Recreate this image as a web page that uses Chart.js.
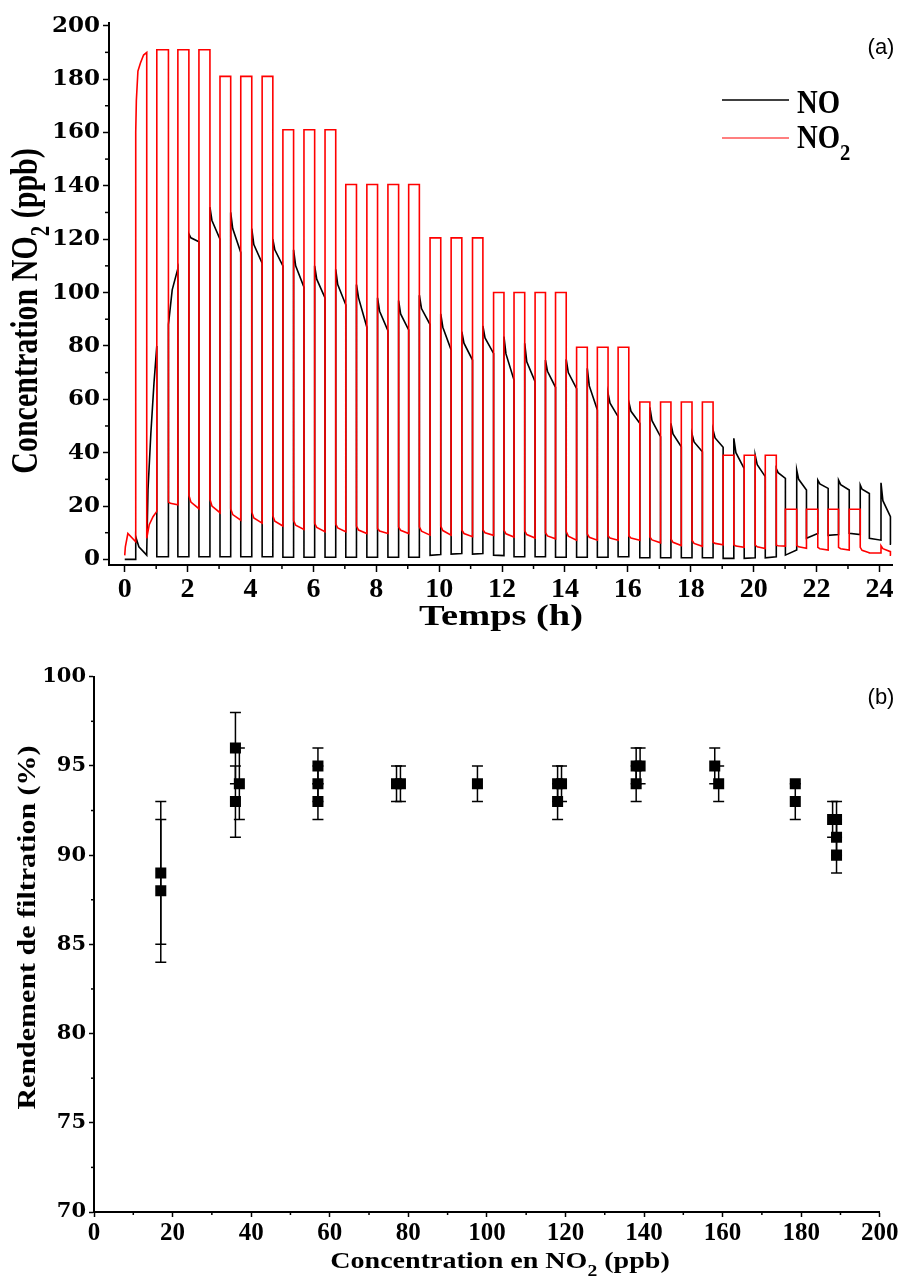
<!DOCTYPE html>
<html><head><meta charset="utf-8">
<script src="https://cdn.jsdelivr.net/npm/chart.js@4.4.0/dist/chart.umd.min.js"></script>
<style>
html,body{margin:0;padding:0;background:#fff;width:900px;height:1282px;overflow:hidden}
#wrapA{position:absolute;left:0;top:0;width:900px;height:640px}
#wrapB{position:absolute;left:0;top:640px;width:900px;height:642px}
canvas{display:block}
</style></head><body>
<div id="wrapA"><canvas id="chartA" width="900" height="640"></canvas></div>
<div id="wrapB"><canvas id="chartB" width="900" height="642"></canvas></div>
<script>
// ---------- (a) time series: segment boundaries (h) ----------
const switchTimes = [0, 0.35, 0.70, 1.02, 1.39, 1.69, 2.04, 2.36, 2.71, 3.03,
  3.37, 3.69, 4.04, 4.37, 4.71, 5.03, 5.37, 5.70, 6.04, 6.37,
  6.71, 7.03, 7.37, 7.70, 8.04, 8.37, 8.71, 9.03, 9.37, 9.71,
  10.05, 10.38, 10.72, 11.06, 11.39, 11.73, 12.06, 12.38, 12.72, 13.05,
  13.38, 13.70, 14.04, 14.37, 14.71, 15.03, 15.37, 15.69, 16.03, 16.38,
  16.70, 17.04, 17.37, 17.70, 18.04, 18.37, 18.71, 19.03, 19.37, 19.70,
  20.05, 20.37, 20.72, 21.01, 21.37, 21.68, 22.04, 22.37, 22.70, 23.04,
  23.39, 23.68, 24.05, 24.35, 24.37];

// NO (ppb): value at start, early knee (null = none) and end of each segment
const noStart = [0, 8.5, 3, 1, 88, 1, 122, 1, 132, 1,
  130, 1, 124, 1, 120, 0.8, 116, 0.8, 110, 0.8,
  108.7, 0.8, 103, 0.8, 98, 0.8, 97, 0.8, 99, 1.5,
  92, 2, 85.3, 2, 87.5, 1.6, 83.5, 1, 81, 1,
  74.7, 0.8, 75, 0.8, 71.6, 0.8, 62.2, 1, 59, 0.6,
  57, 0.6, 51, 0.6, 47, 0.6, 48.5, 0.4, 45.4, 0.4,
  39, 0.6, 34, 1.6, 33.5, 7.9, 29.7, 9, 29.7, 9.8,
  27.9, 7.9, 28.7, 5.7];
const noKnee = [null, null, null, null, null, null, 120.5, null, 127, null,
  124, null, 118, null, 116, null, 110, null, 105, null,
  103, null, 98, null, 93, null, 92, null, 94, null,
  87, null, 81, null, 83, null, 77, null, 74, null,
  70.5, null, 70, null, 65, null, 58.5, null, 55.5, null,
  52, null, 47, null, 44, null, 45.5, null, 40, null,
  35.5, null, 32.5, null, 30, null, 28.3, null, 28, null,
  26.3, null, 22, null];
const noEnd = [0, 1.6, 80, 1, 109, 1, 119, 1, 120, 1,
  115, 1, 111, 1, 110, 0.8, 102, 0.8, 98, 0.8,
  95.4, 0.8, 87, 0.8, 85.7, 0.8, 86, 0.8, 88, 1.8,
  78.5, 2.2, 74.7, 2.2, 77.2, 1.4, 67.2, 1, 66.6, 1,
  64.5, 0.8, 64, 0.8, 56, 0.8, 53.5, 1, 51, 0.6,
  46, 0.6, 42.2, 0.6, 40.3, 0.6, 42, 0.4, 34, 0.6,
  31, 1, 30.4, 3.5, 26, 9.7, 26.6, 9.3, 26, 9.3,
  24.7, 7.2, 16, 5.7];

// NO2 (ppb): value at start, early knee and end of each segment
const no2Start = [1.5, 160, 7.9, 191, 21.5, 191, 24, 191, 22.5, 181,
  19, 181, 17.8, 181, 16.3, 161, 14.5, 161, 13.5, 161,
  13.2, 140.5, 12.5, 140.5, 11.6, 140.5, 12.2, 140.5, 12.2, 120.5,
  12.5, 120.5, 11, 120.5, 11.1, 100, 11, 100, 10.7, 100,
  10, 100, 10.4, 79.5, 9.5, 79.5, 8.8, 79.5, 8.8, 59,
  8.4, 59, 7.7, 59, 7.2, 59, 6.4, 39, 5.5, 39,
  5.4, 39, 5.3, 18.8, 5.2, 18.8, 4.5, 18.8, 4.5, 18.8,
  4.5, 2.4, 5.1, 1.6];
const no2Knee = [null, null, null, null, 21, null, 21.5, null, 20, null,
  16.8, null, 15.5, null, 14.3, null, 12.8, null, 12, null,
  11.8, null, 11, null, 10.6, null, 10.9, null, 10.6, null,
  10.8, null, 9.7, null, 10, null, 9.6, null, 9.3, null,
  8.8, null, 8.7, null, 8.3, null, 8, null, 8, null,
  7.3, null, 6.4, null, 6, null, 6, null, 5, null,
  4.7, null, 5.1, null, 4.7, null, 4, null, 4, null,
  3.4, null, 4, null];
const no2End = [6.6, 190, 18, 191, 20.5, 191, 19, 191, 17.5, 181,
  14.7, 181, 13.6, 181, 12.5, 161, 11.2, 161, 10.4, 161,
  10.4, 140.5, 9.7, 140.5, 9.7, 140.5, 9.7, 140.5, 9.1, 120.5,
  9.1, 120.5, 8.5, 120.5, 9, 100, 8.4, 100, 8, 100,
  7.7, 100, 7.2, 79.5, 7.2, 79.5, 7.2, 79.5, 7.2, 59,
  6.2, 59, 5.2, 59, 4.9, 59, 5.5, 39, 4.5, 39,
  4.1, 39, 5, 18.8, 4.2, 18.8, 3.5, 18.8, 3.5, 18.8,
  2.5, 2.4, 2.9, 1.6];

// extra intermediate readings inside the first segments
const noExtraTime = [0.45, 0.74, 0.83, 0.93, 1.51];
const noExtraValue = [4.7, 26, 47, 66, 101];
const no2ExtraTime = [0.02, 0.10, 0.37, 0.42, 0.50, 0.60, 0.78, 0.90];
const no2ExtraValue = [4.7, 9.7, 172, 183, 186, 189, 13, 16];

const timeTicks = [0, 2, 4, 6, 8, 10, 12, 14, 16, 18, 20, 22, 24];
const timeMinorTicks = [1, 3, 5, 7, 9, 11, 13, 15, 17, 19, 21, 23];
const concTicksA = [0, 20, 40, 60, 80, 100, 120, 140, 160, 180, 200];
const concMinorTicksA = [10, 30, 50, 70, 90, 110, 130, 150, 170, 190];

// ---------- (b) filtration efficiency ----------
const concentration = [17, 17, 36, 36, 37, 57, 57, 57, 77, 78, 97.6, 118, 119, 118, 138, 139, 138, 158, 159, 178.5, 178.5, 188, 189, 189, 189];
const efficiency    = [89, 88, 96, 93, 94, 95, 94, 93, 94, 94, 94, 94, 94, 93, 95, 95, 94, 95, 94, 94, 93, 92, 92, 91, 90];
const errorBar      = [4, 4, 2, 2, 2, 1, 1, 1, 1, 1, 1, 1, 1, 1, 1, 1, 1, 1, 1, 0, 1, 1, 1, 1, 1];

const concTicksB = [0, 20, 40, 60, 80, 100, 120, 140, 160, 180, 200];
const concMinorTicksB = [10, 30, 50, 70, 90, 110, 130, 150, 170, 190];
const effTicks = [70, 75, 80, 85, 90, 95, 100];
const effMinorTicks = [72.5, 77.5, 82.5, 87.5, 92.5, 97.5];

// ---------- helpers ----------
const SERIF = "'Liberation Serif','Times New Roman',serif";
const DJ = "'DejaVu Serif',serif";
const SANS = "'Liberation Sans',Arial,sans-serif";
const KNEE_AT = 0.2; // where inside a segment the knee reading was taken

function buildSeries(starts, knees, ends, exT, exV) {
  const pts = [];
  for (let i = 0; i < starts.length; i++) {
    const t0 = switchTimes[i], t1 = switchTimes[i + 1];
    pts.push({x: t0, y: starts[i]});
    if (knees[i] !== null) pts.push({x: t0 + KNEE_AT * (t1 - t0), y: knees[i]});
    exT.forEach((t, k) => { if (t > t0 && t < t1) pts.push({x: t, y: exV[k]}); });
    pts.push({x: t1, y: ends[i]});
  }
  return pts;
}

function richText(ctx, o) {
  ctx.save();
  ctx.translate(o.x, o.y);
  if (o.rot) ctx.rotate(o.rot);
  ctx.scale(o.sx || 1, o.sy || 1);
  ctx.fillStyle = '#000';
  ctx.textBaseline = 'alphabetic';
  ctx.textAlign = 'left';
  const w8 = o.weight || 'bold';
  const main = `${w8} ${o.size}px ${o.family}`;
  const sub = `${w8} ${o.size * (o.subScale || 0.7)}px ${o.family}`;
  const widths = []; let total = 0;
  o.parts.forEach(p => { ctx.font = p.sub ? sub : main; const w = ctx.measureText(p.t).width; widths.push(w); total += w; });
  let cx = o.align === 'center' ? -total / 2 : (o.align === 'right' ? -total : 0);
  o.parts.forEach((p, i) => {
    ctx.font = p.sub ? sub : main;
    ctx.fillText(p.t, cx, p.sub ? o.size * (o.subDy || 0.3) : 0);
    cx += widths[i];
  });
  ctx.restore();
}

function minorTicksPlugin(xVals, yVals, xLen, yLen) {
  return {
    id: 'minorTicks',
    afterDraw(chart) {
      const {ctx} = chart; const xs = chart.scales.x, ys = chart.scales.y;
      ctx.save(); ctx.strokeStyle = '#000'; ctx.lineWidth = 1.5;
      xVals.forEach(v => { const px = xs.getPixelForValue(v); ctx.beginPath(); ctx.moveTo(px, xs.top); ctx.lineTo(px, xs.top + xLen); ctx.stroke(); });
      yVals.forEach(v => { const py = ys.getPixelForValue(v); ctx.beginPath(); ctx.moveTo(ys.right, py); ctx.lineTo(ys.right - yLen, py); ctx.stroke(); });
      ctx.restore();
    }
  };
}

const textsA = {
  id: 'textsA',
  afterDraw(chart) {
    const ctx = chart.ctx;
    richText(ctx, {parts: [{t: 'Concentration NO'}, {t: '2', sub: true}, {t: ' (ppb)'}], x: 37, y: 311, rot: -Math.PI / 2, sy: 1.28, size: 30, family: SERIF, align: 'center'});
    richText(ctx, {parts: [{t: 'Temps (h)'}], x: 501, y: 625, sx: 1.28, size: 30, family: SERIF, align: 'center'});
    richText(ctx, {parts: [{t: '(a)'}], x: 881, y: 54, size: 22, family: SANS, weight: 'normal', align: 'center'});
    ctx.save();
    ctx.lineWidth = 1.5; ctx.strokeStyle = '#000';
    ctx.beginPath(); ctx.moveTo(722, 100); ctx.lineTo(789, 100); ctx.stroke();
    ctx.lineWidth = 1.2; ctx.strokeStyle = 'rgb(255,0,0)';
    ctx.beginPath(); ctx.moveTo(722, 138); ctx.lineTo(789, 138); ctx.stroke();
    ctx.restore();
    richText(ctx, {parts: [{t: 'NO'}], x: 797, y: 113, sx: 0.87, size: 33, family: SERIF});
    richText(ctx, {parts: [{t: 'NO'}, {t: '2', sub: true}], x: 797, y: 148, sx: 0.87, size: 33, family: SERIF, subScale: 0.72, subDy: 0.36});
  }
};

const textsB = {
  id: 'textsB',
  afterDraw(chart) {
    const ctx = chart.ctx;
    richText(ctx, {parts: [{t: 'Rendement de filtration (%)'}], x: 35, y: 287.5, rot: -Math.PI / 2, sy: 0.85, size: 30, family: SERIF, align: 'center'});
    richText(ctx, {parts: [{t: 'Concentration en NO'}, {t: '2', sub: true}, {t: ' (ppb)'}], x: 500, y: 628, sx: 1.22, size: 23, family: SERIF, align: 'center', subDy: 0.35});
    richText(ctx, {parts: [{t: '(b)'}], x: 881, y: 63.5, size: 22, family: SANS, weight: 'normal', align: 'center'});
  }
};

const errorBars = {
  id: 'errorBars',
  beforeDatasetsDraw(chart) {
    const {ctx} = chart; const xs = chart.scales.x, ys = chart.scales.y;
    ctx.save(); ctx.strokeStyle = '#000'; ctx.lineWidth = 1.5;
    concentration.forEach((c, i) => {
      const e = errorBar[i]; if (!e) return;
      const px = xs.getPixelForValue(c);
      const top = ys.getPixelForValue(efficiency[i] + e), bot = ys.getPixelForValue(efficiency[i] - e);
      ctx.beginPath();
      ctx.moveTo(px, top); ctx.lineTo(px, bot);
      ctx.moveTo(px - 5.5, top); ctx.lineTo(px + 5.5, top);
      ctx.moveTo(px - 5.5, bot); ctx.lineTo(px + 5.5, bot);
      ctx.stroke();
    });
    ctx.restore();
  }
};

// ---------- chart (a) ----------
new Chart(document.getElementById('chartA'), {
  type: 'line',
  data: {
    datasets: [
      {label: 'NO2', data: buildSeries(no2Start, no2Knee, no2End, no2ExtraTime, no2ExtraValue), borderColor: 'rgb(255,0,0)', borderWidth: 1.6, pointRadius: 0, tension: 0, fill: false},
      {label: 'NO', data: buildSeries(noStart, noKnee, noEnd, noExtraTime, noExtraValue), borderColor: '#000', borderWidth: 1.6, pointRadius: 0, tension: 0, fill: false}
    ]
  },
  options: {
    responsive: false, animation: false, devicePixelRatio: 1,
    layout: {padding: {top: 23, right: 8, left: 0, bottom: 0}},
    plugins: {legend: {display: false}, tooltip: {enabled: false}},
    scales: {
      x: {
        type: 'linear', min: -0.5, max: 24.4,
        afterBuildTicks: s => { s.ticks = timeTicks.map(v => ({value: v})); },
        afterFit: s => { s.height = 75; },
        ticks: {autoSkip: false, maxRotation: 0, padding: 1, color: '#000', font: {family: SERIF, size: 28, weight: 'bold'}, callback: v => String(v)},
        grid: {drawOnChartArea: false, drawTicks: true, tickLength: 7, tickWidth: 1.5, tickColor: '#000'},
        border: {display: true, color: '#000', width: 2}
      },
      y: {
        type: 'linear', min: -2.1, max: 201,
        afterBuildTicks: s => { s.ticks = concTicksA.map(v => ({value: v})); },
        afterFit: s => { s.width = 109; },
        ticks: {autoSkip: false, padding: 3, color: '#000', font: {family: DJ, size: 23, weight: 'bold'}, callback: v => String(v)},
        grid: {drawOnChartArea: false, drawTicks: true, tickLength: 6, tickWidth: 1.5, tickColor: '#000'},
        border: {display: true, color: '#000', width: 2}
      }
    }
  },
  plugins: [minorTicksPlugin(timeMinorTicks, concMinorTicksA, 4, 4), textsA]
});

// ---------- chart (b) ----------
new Chart(document.getElementById('chartB'), {
  type: 'scatter',
  data: {
    datasets: [{
      label: 'Rendement',
      data: concentration.map((c, i) => ({x: c, y: efficiency[i]})),
      pointStyle: 'rect', pointRadius: 7.8, backgroundColor: '#000', borderColor: '#000', borderWidth: 0
    }]
  },
  options: {
    responsive: false, animation: false, devicePixelRatio: 1,
    layout: {padding: {top: 36.7, right: 18, left: 0, bottom: 0}},
    plugins: {legend: {display: false}, tooltip: {enabled: false}},
    scales: {
      x: {
        type: 'linear', min: 0, max: 200,
        afterBuildTicks: s => { s.ticks = concTicksB.map(v => ({value: v})); },
        afterFit: s => { s.height = 70; },
        ticks: {autoSkip: false, maxRotation: 0, padding: 1.5, color: '#000', font: {family: SERIF, size: 25, weight: 'bold'}, callback: v => String(v)},
        grid: {drawOnChartArea: false, drawTicks: true, tickLength: 5, tickWidth: 1.5, tickColor: '#000'},
        border: {display: true, color: '#000', width: 2}
      },
      y: {
        type: 'linear', min: 70, max: 100,
        afterBuildTicks: s => { s.ticks = effTicks.map(v => ({value: v})); },
        afterFit: s => { s.width = 94; },
        ticks: {autoSkip: false, padding: 3, color: '#000', font: {family: DJ, size: 21, weight: 'bold'}, callback: v => String(v)},
        grid: {drawOnChartArea: false, drawTicks: true, tickLength: 5, tickWidth: 1.5, tickColor: '#000'},
        border: {display: true, color: '#000', width: 2}
      }
    }
  },
  plugins: [errorBars, minorTicksPlugin(concMinorTicksB, effMinorTicks, 3, 3), textsB]
});
</script>
</body></html>
